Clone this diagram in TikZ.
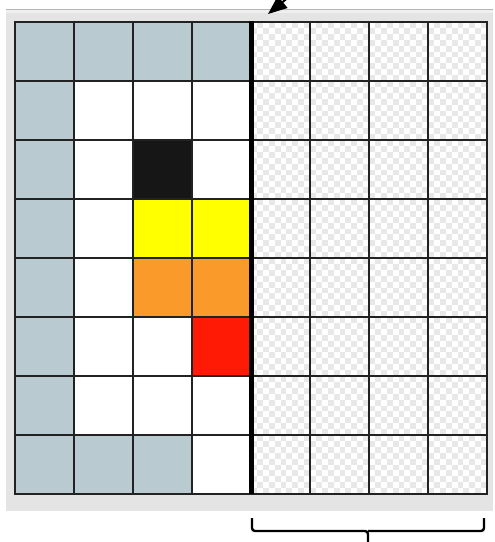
\documentclass[tikz,border=0pt]{standalone}
\usetikzlibrary{arrows.meta}
\definecolor{framegray}{HTML}{E4E4E4}
\definecolor{framelight}{HTML}{EFEFEF}
\definecolor{bluegray}{HTML}{BACAD1}
\definecolor{cellblack}{HTML}{161616}
\definecolor{cellyellow}{HTML}{FFFF00}
\definecolor{cellorange}{HTML}{FA9A2A}
\definecolor{cellred}{HTML}{FF1A05}
\definecolor{checkgray}{HTML}{E8E8E8}
\definecolor{gridline}{HTML}{222222}
\tikzset{
  cellfill/.style={fill=#1, draw=none},
  gridstyle/.style={draw=gridline, line width=1.8pt},
  divider/.style={draw=black, line width=5pt},
  bracket/.style={draw=black, line width=2.4pt, rounded corners=3pt},
  pointer/.style={draw=black, line width=2pt, -{Triangle[length=19pt,width=15pt]}}
}
\begin{document}
\begin{tikzpicture}[x=1pt,y=-1pt]
\useasboundingbox (0,0) rectangle (495,542);
\clip (0,0) rectangle (495,542);
\fill[white] (0,0) rectangle (495,542);
% frame
\fill[framegray] (6,9) rectangle (493,511);
\fill[framelight] (6,9) rectangle (493,13);
\draw[framegray!80!black, line width=0.5pt] (6,9) -- (493,9);
% checker right half
\fill[white] (251,22) rectangle (487,493);
\foreach \i in {0,...,39}{
  \foreach \j in {0,...,79}{
    \pgfmathparse{int(mod(\i+\j,2))}
    \ifnum\pgfmathresult=1
      \fill[checkgray] ({251+\i*5.9},{22+\j*5.9}) rectangle ++(5.9,5.9);
    \fi
  }
}
% left half cells
\fill[white] (15,22) rectangle (251,493);
\foreach \c/\r/\col in {0/0/bluegray,1/0/bluegray,2/0/bluegray,3/0/bluegray,
  0/1/bluegray,0/2/bluegray,0/3/bluegray,0/4/bluegray,0/5/bluegray,0/6/bluegray,
  0/7/bluegray,1/7/bluegray,2/7/bluegray,
  2/2/cellblack,2/3/cellyellow,3/3/cellyellow,2/4/cellorange,3/4/cellorange,3/5/cellred}{
  \path[cellfill=\col] ({15+\c*59},{22+\r*59}) rectangle ++(59,59);
}
% grid
\foreach \k in {0,...,8}{
  \draw[gridstyle] ({15+\k*59},22) -- ({15+\k*59},494);
  \draw[gridstyle] (15,{22+\k*59}) -- (487,{22+\k*59});
}
\draw[gridstyle] (15,22) rectangle (487,494);
% divider
\coordinate (dtop) at (251,21);
\coordinate (dbot) at (251,494);
\draw[divider] (dtop) -- (dbot);
% pointer arrow
\coordinate (astart) at (312,-22);
\coordinate (atip) at (268,14);
\draw[pointer] (astart) -- (atip);
% bracket
\coordinate (bl) at (252,518);
\coordinate (br) at (484,518);
\coordinate (bm) at (368,531);
\coordinate (bt) at (368,545);
\draw[bracket] (bl) -- (252,531) -- (bm) -- (bt);
\draw[bracket] (br) -- (484,531) -- (bm);
\end{tikzpicture}
\end{document}
